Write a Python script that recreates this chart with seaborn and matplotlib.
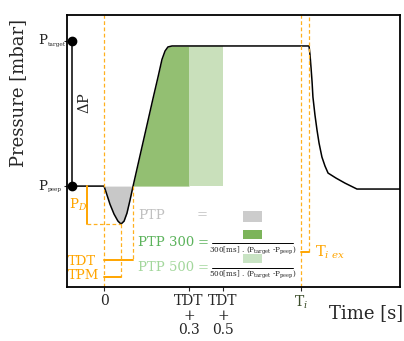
import numpy as np
import pandas as pd
import matplotlib
matplotlib.use('Agg')
import matplotlib.pyplot as plt
import seaborn as sns
from matplotlib.patches import Rectangle
from matplotlib.transforms import blended_transform_factory

time_s = [-0.188, 0.0, 0.012, 0.035, 0.059, 0.082, 0.100, 0.118, 0.135, 0.153,
          0.171, 0.212, 0.253, 0.288, 0.318, 0.341, 0.359, 0.376, 0.400, 0.500,
          0.700, 1.206, 1.212, 1.218, 1.224, 1.229, 1.241, 1.253, 1.265, 1.282,
          1.300, 1.318, 1.365, 1.418, 1.488, 1.741]
pressure = [0.0, 0.0, -0.043, -0.129, -0.200, -0.250, -0.271, -0.250, -0.193, -0.100,
            0.0, 0.219, 0.437, 0.624, 0.780, 0.904, 0.964, 0.993, 1.0, 1.0,
            1.0, 1.0, 0.936, 0.843, 0.743, 0.636, 0.507, 0.400, 0.307, 0.207,
            0.143, 0.093, 0.057, 0.021, -0.021, -0.021]

xtick_times = [0, 0.5, 0.7, 1.159]
xtick_labels = ['0', 'TDT\n+\n0.3', 'TDT\n+\n0.5', r'T$_i$']
ytick_pressures = [0, 1.036]
ytick_main = ['P', 'P']
ytick_subs = ['peep', 'target']

t_min, p_min = 0.100, -0.271
t_tdt = 0.171
t_ptp300_end, t_ptp500_end = 0.500, 0.700
t_ti, t_tiex = 1.159, 1.206

df = pd.DataFrame({'time': time_s, 'pressure': pressure})

sns.set_style('ticks')
plt.rcParams['font.family'] = ['DejaVu Serif']
plt.rcParams['mathtext.fontset'] = 'dejavuserif'

fig = plt.figure(figsize=(4.04, 3.41), dpi=100)
ax = fig.add_axes([0.167, 0.158, 0.823, 0.798])

ORANGE = '#FFA500'
DASH = dict(color='#FFB01F', lw=0.9, ls=(0, (3, 2)))

# fills
t = df['time'].to_numpy(); p = df['pressure'].to_numpy()
m = (t >= 0) & (t <= t_tdt)
ax.fill_between(t[m], p[m], 0, color='#c8c8c8', lw=0)
m = (t >= t_tdt) & (t <= t_ptp300_end)
ax.fill_between(t[m], p[m], 0, color='#93bf72', lw=0)
m = (t >= t_ptp300_end) & (t <= t_ptp500_end)
ax.fill_between(t[m], p[m], 0, color='#c9e0bb', lw=0)

sns.lineplot(data=df, x='time', y='pressure', ax=ax, color='black', lw=1.1,
             sort=False, estimator=None)

# orange guide lines
ax.axvline(0, **DASH)
ax.axvline(t_ti, **DASH)
ax.plot([t_tiex, t_tiex], [-0.471, 1.25], **DASH)
ax.plot([t_ti, t_tiex], [-0.471, -0.471], color=ORANGE, lw=1.4)
ax.text(t_tiex + 0.035, -0.475, r'T$_{i\ ex}$', color=ORANGE, fontsize=10.5, va='center', ha='left')

# P_D bracket
ax.plot([-0.1, -0.1], [0, p_min], color=ORANGE, lw=1.4)
ax.plot([-0.1, t_min], [p_min, p_min], **DASH)
ax.text(-0.207, -0.136, r'P$_D$', color=ORANGE, fontsize=9.5, va='center', ha='left')
# TDT / TPM
ax.plot([t_tdt, t_tdt], [0, -0.529], **DASH)
ax.plot([0, t_tdt], [-0.529, -0.529], color=ORANGE, lw=1.4)
ax.plot([t_min, t_min], [p_min, -0.65], **DASH)
ax.plot([0, t_min], [-0.65, -0.65], color=ORANGE, lw=1.4)
ax.text(-0.212, -0.536, 'TDT', color=ORANGE, fontsize=9.5, va='center', ha='left')
ax.text(-0.212, -0.636, 'TPM', color=ORANGE, fontsize=9.5, va='center', ha='left')

# delta P
ax.plot([-0.188, -0.188], [0, 1.036], color='black', lw=1.1)
ax.plot([-0.188, -0.188], [0, 1.036], 'o', color='black', ms=6)
ax.text(-0.112, 0.593, r'$\Delta$P', rotation=90, fontsize=10.5, va='center', ha='center')

# PTP formulas
ax.text(0.2, -0.207, 'PTP', color='#c0c0c0', fontsize=9.5, va='center', ha='left')
ax.text(0.58, -0.207, '=', color='#c0c0c0', fontsize=9.5, va='center', ha='center')
ax.add_patch(Rectangle((0.818, -0.257), 0.111, 0.078, color='#cccccc', lw=0))

ax.text(0.2, -0.40, 'PTP 300', color='#5cb35c', fontsize=9.5, va='center', ha='left')
ax.text(0.585, -0.40, '=', color='#5cb35c', fontsize=9.5, va='center', ha='center')
ax.add_patch(Rectangle((0.818, -0.379), 0.111, 0.065, color='#7cb45a', lw=0))
ax.plot([0.635, 1.112], [-0.407, -0.407], color='black', lw=0.7)
ax.text(0.873, -0.455, r'300[ms] . (P$_{\rm target}$ -P$_{\rm peep}$)', fontsize=5.2,
        va='center', ha='center')

ax.text(0.2, -0.579, 'PTP 500', color='#a3d79c', fontsize=9.5, va='center', ha='left')
ax.text(0.585, -0.579, '=', color='#a3d79c', fontsize=9.5, va='center', ha='center')
ax.add_patch(Rectangle((0.818, -0.55), 0.111, 0.064, color='#c8e3c3', lw=0))
ax.plot([0.635, 1.112], [-0.586, -0.586], color='black', lw=0.7)
ax.text(0.873, -0.628, r'500[ms] . (P$_{\rm target}$ -P$_{\rm peep}$)', fontsize=5.2,
        va='center', ha='center')

# axes
ax.set_xlim(-0.215, 1.741)
ax.set_ylim(-0.721, 1.221)
ax.set_xticks(xtick_times)
ax.set_xticklabels(xtick_labels, fontsize=10, linespacing=1.05)
ax.get_xticklabels()[-1].set_color('#3b4d2a')
ax.set_yticks(ytick_pressures)
ax.set_yticklabels(['' for _ in ytick_pressures])
tr = blended_transform_factory(ax.transAxes, ax.transData)
for yv, mn, sb in zip(ytick_pressures, ytick_main, ytick_subs):
    ax.text(-0.088, yv, mn, transform=tr, fontsize=9.5, ha='left', va='center')
    ax.text(-0.058, yv - 0.025, sb, transform=tr, fontsize=4.2, ha='left', va='center')
ax.tick_params(axis='x', length=3, width=0.8, pad=2)
ax.tick_params(axis='y', length=2, width=0.8, pad=1)
for s in ax.spines.values():
    s.set_color('black'); s.set_linewidth(1.3); s.set_visible(True)
ax.set_xlabel(''); ax.set_ylabel('')
ax.text(-0.149, 0.715, 'Pressure [mbar]', rotation=90, fontsize=13, transform=ax.transAxes,
        va='center', ha='center')
ax.text(0.898, -0.096, 'Time [s]', fontsize=13, transform=ax.transAxes,
        va='center', ha='center')

fig.savefig('out.png', dpi=100)
